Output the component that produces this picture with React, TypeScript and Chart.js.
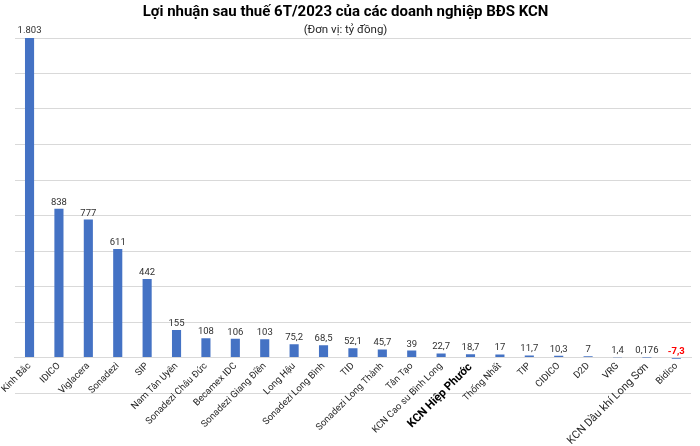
import React, { useEffect, useRef } from 'react';
import { Chart, registerables } from 'chart.js';

Chart.register(...registerables);

const categories = [
  'Kinh Bắc', 'IDICO', 'Viglacera', 'Sonadezi', 'SIP', 'Nam Tân Uyên',
  'Sonadezi Châu Đức', 'Becamex IDC', 'Sonadezi Giang Điền', 'Long Hậu',
  'Sonadezi Long Bình', 'TID', 'Sonadezi Long Thành', 'Tân Tạo',
  'KCN Cao su Bình Long', 'KCN Hiệp Phước', 'Thống Nhất', 'TIP', 'CIDICO',
  'D2D', 'VRG', 'KCN Dầu khí Long Sơn', 'Bidico',
];

const profits = [
  1803, 838, 777, 611, 442, 155, 108, 106, 103, 75.2, 68.5, 52.1, 45.7, 39,
  22.7, 18.7, 17, 11.7, 10.3, 7, 1.4, 0.176, -7.3,
];

const valueLabels = [
  '1.803', '838', '777', '611', '442', '155', '108', '106', '103', '75,2',
  '68,5', '52,1', '45,7', '39', '22,7', '18,7', '17', '11,7', '10,3', '7',
  '1,4', '0,176', '-7,3',
];

const titleText = 'Lợi nhuận sau thuế 6T/2023 của các doanh nghiệp BĐS KCN';
const subtitleText = '(Đơn vị: tỷ đồng)';

const yMin = -200;
const yMax = 1800;
const yStep = 200;

const FONT = 'Roboto';

const valueLabelPlugin = {
  id: 'valueLabels',
  afterDatasetsDraw(chart: any) {
    const ctx = chart.ctx;
    const meta = chart.getDatasetMeta(0);
    const yZero = chart.scales.y.getPixelForValue(0);
    ctx.save();
    ctx.textAlign = 'center';
    ctx.textBaseline = 'alphabetic';
    meta.data.forEach((bar: any, i: number) => {
      const v = profits[i];
      const neg = v < 0;
      ctx.font = `${neg ? 'bold ' : ''}9.5px ${FONT}`;
      ctx.fillStyle = neg ? '#FF0000' : '#303030';
      const top = Math.min(bar.y, yZero);
      ctx.fillText(valueLabels[i], bar.x, top - 4);
    });
    ctx.restore();
  },
};

export default function App() {
  const canvasRef = useRef<HTMLCanvasElement | null>(null);

  useEffect(() => {
    document.body.style.margin = '0';
    const canvas = canvasRef.current;
    if (!canvas) return;
    const chart = new Chart(canvas, {
      type: 'bar',
      data: {
        labels: categories,
        datasets: [
          {
            data: profits,
            backgroundColor: '#4472C4',
            borderWidth: 0,
            barPercentage: 0.31,
            categoryPercentage: 1,
          },
        ],
      },
      plugins: [valueLabelPlugin],
      options: {
        responsive: false,
        animation: false,
        devicePixelRatio: 1,
        layout: { padding: { left: 0, right: 9, top: 0, bottom: 53 } },
        plugins: {
          legend: { display: false },
          tooltip: { enabled: false },
          title: {
            display: true,
            text: titleText,
            color: '#000000',
            font: { family: FONT, size: 15, weight: 'bold', lineHeight: 1.2 },
            padding: { top: 3, bottom: 0 },
          },
          subtitle: {
            display: true,
            text: subtitleText,
            color: '#262626',
            font: { family: FONT, size: 11.5, weight: 'normal', lineHeight: 1.2 },
            padding: { top: 2, bottom: 1.2 },
          },
        },
        scales: {
          x: {
            type: 'category',
            position: { y: 0 } as any,
            afterFit: (s: any) => {
              s.height = 0;
            },
            grid: { display: false, drawTicks: false, tickLength: 0 },
            border: { display: true, color: '#D9D9D9', width: 1 },
            ticks: {
              autoSkip: false,
              minRotation: 45,
              maxRotation: 45,
              padding: 3,
              color: (c: any) => (categories[c.index] === 'KCN Hiệp Phước' ? '#000000' : '#262626'),
              font: (c: any) => {
                const lbl = categories[c.index];
                if (lbl === 'KCN Hiệp Phước') return { family: FONT, size: 11.5, weight: 'bold' };
                if (lbl === 'KCN Dầu khí Long Sơn') return { family: FONT, size: 11, weight: 'normal' };
                return { family: FONT, size: 9.5, weight: 'normal' };
              },
            },
          },
          y: {
            min: yMin,
            max: yMax,
            afterFit: (s: any) => {
              s.width = 12;
            },
            ticks: { display: false, stepSize: yStep },
            grid: { color: '#D9D9D9', lineWidth: 1, drawTicks: false, tickLength: 0 },
            border: { display: false },
          },
        },
      },
    });
    return () => chart.destroy();
  }, []);

  return (
    <div style={{ width: 700, height: 446 }}>
      <canvas ref={canvasRef} width={700} height={446} />
    </div>
  );
}
